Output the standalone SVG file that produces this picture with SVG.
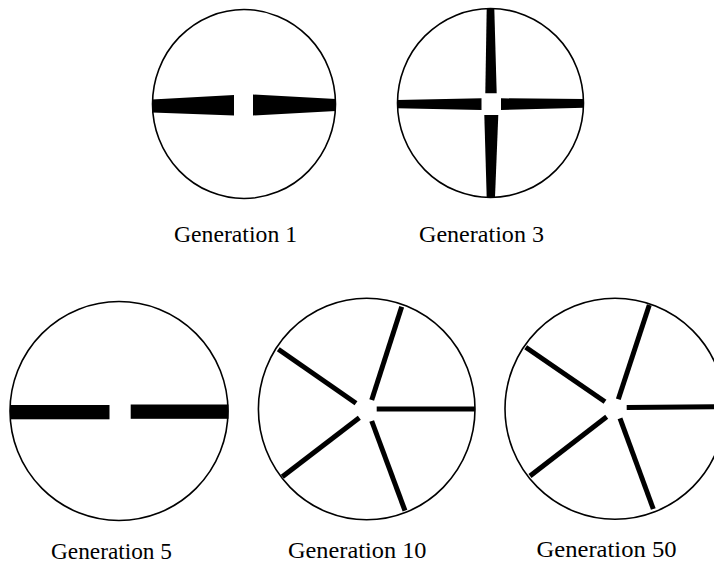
<svg xmlns="http://www.w3.org/2000/svg" width="714" height="564" viewBox="0 0 714 564">
<style>
.ring{fill:none;stroke:#000;stroke-width:1.6}
.bar{fill:#000}
.spoke{stroke:#000;stroke-width:5;fill:none;stroke-linecap:butt}
.lbl{font-family:"Liberation Serif","Times New Roman",serif;font-size:23px;fill:#000}
</style>
<rect width="714" height="564" fill="#fff"/>
<g id="gen1">
<ellipse class="ring" cx="244" cy="104" rx="91.5" ry="94.5"/>
<polygon class="bar" points="152,99.5 234,95 234,115.5 152,112.5"/>
<polygon class="bar" points="253,94.5 336,99 336,111 253,115.5"/>
<text class="lbl" x="174" y="242" textLength="123" lengthAdjust="spacingAndGlyphs">Generation 1</text>
</g>
<g id="gen3">
<ellipse class="ring" cx="490.5" cy="103" rx="93" ry="94.5"/>
<polygon class="bar" points="397,100 481.5,98.3 481.5,110 397,108.3"/>
<polygon class="bar" points="501,98.3 584,99 584,107.7 501,110"/>
<polygon class="bar" points="486.7,8.5 494.3,8.5 496.7,93.3 485.3,93.3"/>
<polygon class="bar" points="484.3,115 498.3,115 495,197.3 486.7,197.3"/>
<text class="lbl" x="419" y="241.5" textLength="125" lengthAdjust="spacingAndGlyphs">Generation 3</text>
</g>
<g id="gen5">
<ellipse class="ring" cx="119" cy="411" rx="109" ry="109.5"/>
<rect class="bar" x="10" y="405" width="99.5" height="14.3"/>
<rect class="bar" x="130.7" y="404.5" width="97.8" height="14.3"/>
<text class="lbl" x="51" y="559" textLength="121" lengthAdjust="spacingAndGlyphs">Generation 5</text>
</g>
<g id="gen10">
<ellipse class="ring" cx="366.7" cy="409" rx="108.3" ry="110.8"/>
<line class="spoke" x1="376.7" y1="409" x2="475" y2="409"/>
<line class="spoke" x1="371.7" y1="400" x2="401.7" y2="306.7"/>
<line class="spoke" x1="356" y1="403.3" x2="278.3" y2="349.3"/>
<line class="spoke" x1="359.3" y1="417.7" x2="282.3" y2="476.7" stroke-width="6"/>
<line class="spoke" x1="371.7" y1="421" x2="405" y2="510.7"/>
<text class="lbl" x="288" y="557.5" textLength="138.5" lengthAdjust="spacingAndGlyphs">Generation 10</text>
</g>
<g id="gen50">
<ellipse class="ring" cx="615" cy="408.8" rx="110" ry="110.5"/>
<line class="spoke" x1="626.7" y1="407.5" x2="714" y2="406.7"/>
<line class="spoke" x1="618.3" y1="399.3" x2="649.3" y2="305"/>
<line class="spoke" x1="605" y1="401.7" x2="525.7" y2="347.3"/>
<line class="spoke" x1="606.7" y1="416.7" x2="530" y2="476"/>
<line class="spoke" x1="620" y1="418.3" x2="653.3" y2="509"/>
<text class="lbl" x="536.5" y="556.5" textLength="140" lengthAdjust="spacingAndGlyphs">Generation 50</text>
</g>
<g id="connectors"/>
</svg>
